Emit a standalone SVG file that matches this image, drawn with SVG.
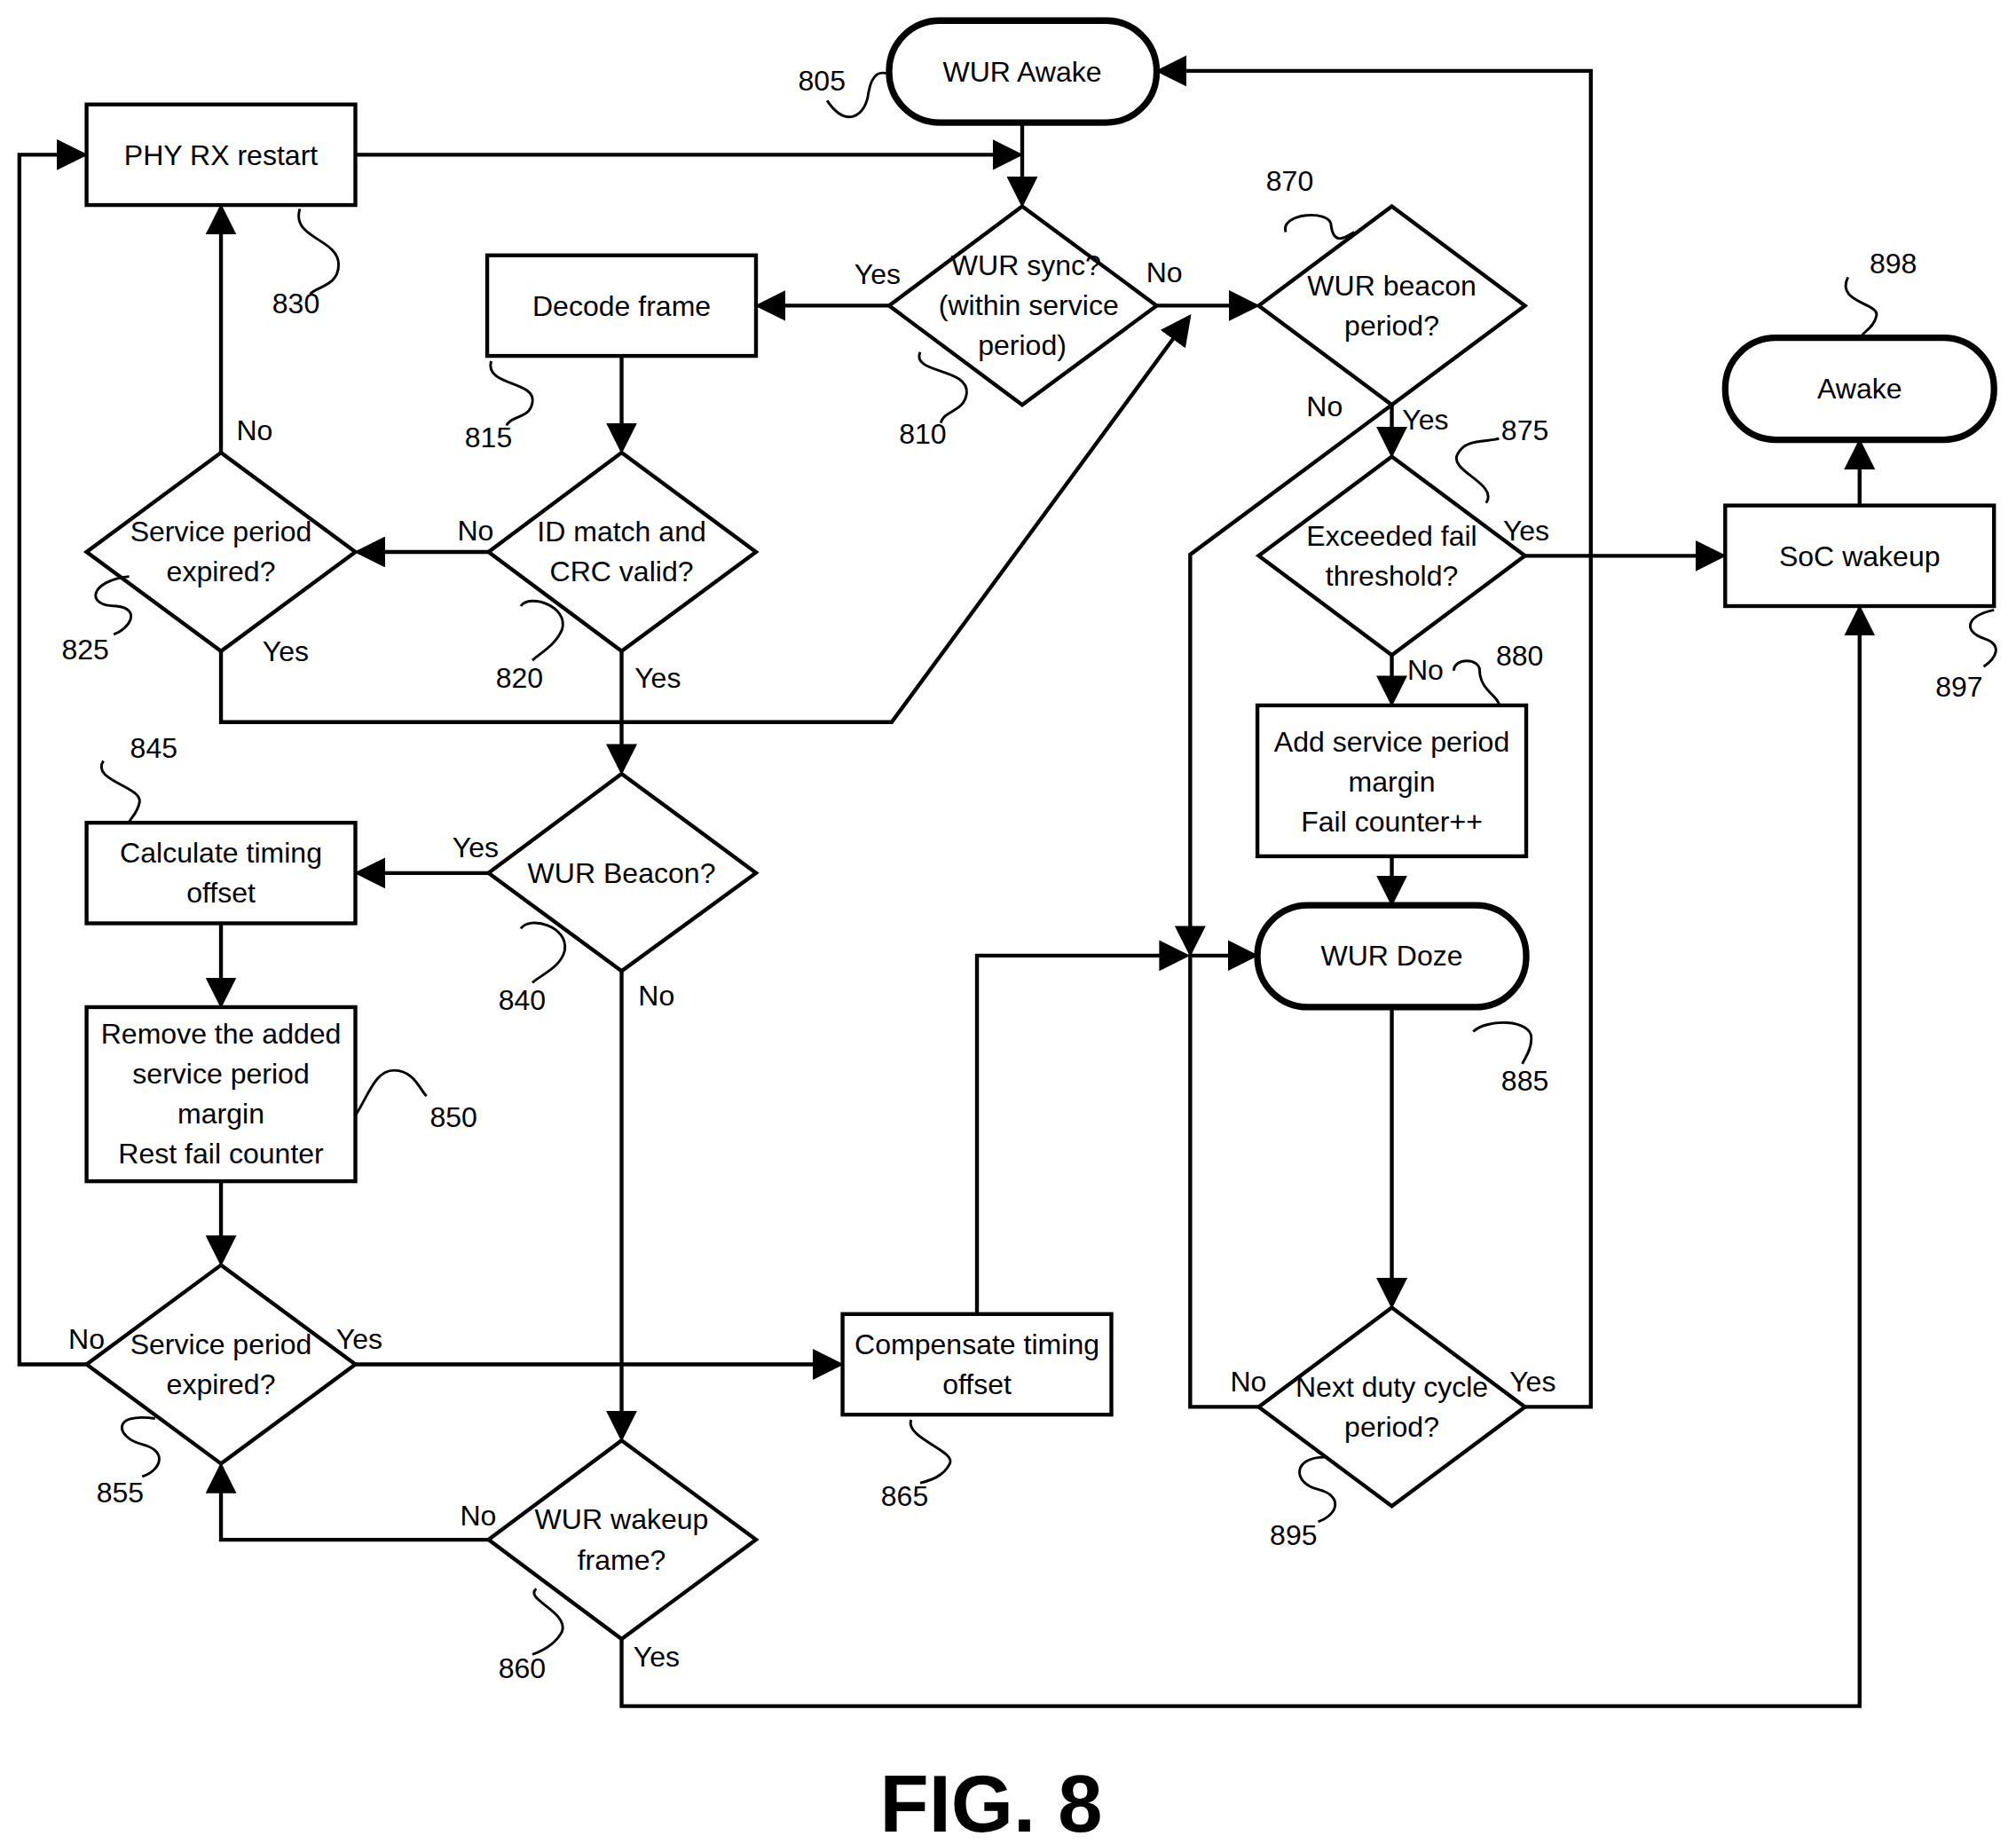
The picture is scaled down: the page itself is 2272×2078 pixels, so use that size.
<svg xmlns="http://www.w3.org/2000/svg" width="2272" height="2078" viewBox="0 0 2272 2078">
<style>
.n{fill:#fff;stroke:#000;stroke-width:3}
.t{fill:#fff;stroke:#000;stroke-width:5}
text{font-family:"Liberation Sans",Arial,sans-serif;font-size:22px;text-anchor:middle;fill:#000}
.l{fill:none;stroke:#000;stroke-width:3}
.s{fill:none;stroke:#000;stroke-width:2}
</style>
<defs><marker id="a" markerWidth="8" markerHeight="8" refX="7" refY="4" orient="auto" markerUnits="strokeWidth"><path d="M0,0 L8,4 L0,8 z" fill="#000"/></marker></defs>
<rect width="2272" height="2078" fill="#fff"/>
<g transform="scale(1.4564 1.4532)">
<g id="connectors" marker-end="url(#a)">
<path class="l" d="M791,95 V158"/>
<path class="l" d="M275,120 H789"/>
<path class="l" d="M688,237 H587"/>
<path class="l" d="M895,237 H972"/>
<path class="l" d="M1077,314 V352"/>
<path class="l" d="M1077,314 L921,430 V739"/>
<path class="l" d="M756,1019 V741 H918"/>
<path class="l" d="M974,1091 H921 V741 H971"/>
<path class="l" d="M481,276 V349"/>
<path class="l" d="M378,428 H277"/>
<path class="l" d="M171,351 V161"/>
<path class="l" d="M171,505 V560 H690 L920,246"/>
<path class="l" d="M481,505 V598"/>
<path class="l" d="M378,677 H277"/>
<path class="l" d="M481,753 V1115"/>
<path class="l" d="M171,716 V779"/>
<path class="l" d="M171,916 V979"/>
<path class="l" d="M67,1058 H15 V120 H65"/>
<path class="l" d="M275,1058 H650"/>
<path class="l" d="M378,1194 H171 V1137"/>
<path class="l" d="M481,1271 V1323 H1439 V472"/>
<path class="l" d="M1180,431 H1333"/>
<path class="l" d="M1077,508 V545"/>
<path class="l" d="M1077,664 V700"/>
<path class="l" d="M1077,781 V1012"/>
<path class="l" d="M1180,1091 H1231 V55 H897"/>
<path class="l" d="M1439,392 V343"/>
</g>
<g id="labels">
<text x="679" y="220">Yes</text><text x="901" y="219">No</text>
<text x="1103" y="333">Yes</text><text x="1025" y="323">No</text>
<text x="368" y="419">No</text><text x="197" y="341">No</text>
<text x="221" y="513">Yes</text><text x="509" y="533">Yes</text>
<text x="368" y="665">Yes</text><text x="508" y="780">No</text>
<text x="67" y="1046">No</text><text x="278" y="1046">Yes</text>
<text x="370" y="1183">No</text><text x="508" y="1292">Yes</text>
<text x="1181" y="419">Yes</text><text x="1103" y="527">No</text>
<text x="966" y="1079">No</text><text x="1186" y="1079">Yes</text>
</g>
<g id="n805"><rect class="t" x="688" y="16" width="207" height="79" rx="39"/><text x="791" y="63">WUR Awake</text></g>
<g id="n830"><rect class="n" x="67" y="81" width="208" height="78"/><text x="171" y="128">PHY RX restart</text></g>
<g id="n815"><rect class="n" x="377" y="198" width="208" height="78"/><text x="481" y="245">Decode frame</text></g>
<g id="n810"><path class="n" d="M791,160 L895,237 L791,314 L688,237 z"/><text x="794" y="213">WUR sync?</text><text x="796" y="244">(within service</text><text x="791" y="275">period)</text></g>
<g id="n870"><path class="n" d="M1077,160 L1180,237 L1077,314 L974,237 z"/><text x="1077" y="229">WUR beacon</text><text x="1077" y="260">period?</text></g>
<g id="n898"><rect class="t" x="1335" y="262" width="208" height="79" rx="39"/><text x="1439" y="309">Awake</text></g>
<g id="n897"><rect class="n" x="1335" y="392" width="208" height="78"/><text x="1439" y="439">SoC wakeup</text></g>
<g id="n825"><path class="n" d="M171,351 L275,428 L171,505 L67,428 z"/><text x="171" y="420">Service period</text><text x="171" y="451">expired?</text></g>
<g id="n820"><path class="n" d="M481,351 L585,428 L481,505 L378,428 z"/><text x="481" y="420">ID match and</text><text x="481" y="451">CRC valid?</text></g>
<g id="n875"><path class="n" d="M1077,354 L1180,431 L1077,508 L974,431 z"/><text x="1077" y="423">Exceeded fail</text><text x="1077" y="454">threshold?</text></g>
<g id="n880"><rect class="n" x="973" y="547" width="208" height="117"/><text x="1077" y="583">Add service period</text><text x="1077" y="614">margin</text><text x="1077" y="645">Fail counter++</text></g>
<g id="n840"><path class="n" d="M481,600 L585,677 L481,753 L378,677 z"/><text x="481" y="685">WUR Beacon?</text></g>
<g id="n845"><rect class="n" x="67" y="638" width="208" height="78"/><text x="171" y="669">Calculate timing</text><text x="171" y="700">offset</text></g>
<g id="n885"><rect class="t" x="973" y="702" width="208" height="79" rx="39"/><text x="1077" y="749">WUR Doze</text></g>
<g id="n850"><rect class="n" x="67" y="781" width="208" height="135"/><text x="171" y="809">Remove the added</text><text x="171" y="840">service period</text><text x="171" y="871">margin</text><text x="171" y="902">Rest fail counter</text></g>
<g id="n855"><path class="n" d="M171,981 L275,1058 L171,1135 L67,1058 z"/><text x="171" y="1050">Service period</text><text x="171" y="1081">expired?</text></g>
<g id="n865"><rect class="n" x="652" y="1019" width="208" height="78"/><text x="756" y="1050">Compensate timing</text><text x="756" y="1081">offset</text></g>
<g id="n895"><path class="n" d="M1077,1014 L1180,1091 L1077,1168 L974,1091 z"/><text x="1077" y="1083">Next duty cycle</text><text x="1077" y="1114">period?</text></g>
<g id="n860"><path class="n" d="M481,1117 L585,1194 L481,1271 L378,1194 z"/><text x="481" y="1186">WUR wakeup</text><text x="481" y="1217">frame?</text></g>
<g id="refs">
<path class="s" d="M640,78 C655,100 670,90 672,72 C675,55 682,55 690,58"/><text x="636" y="70">805</text>
<path class="s" d="M232,162 C225,185 262,185 262,205 C262,222 245,222 240,228"/><text x="229" y="243">830</text>
<path class="s" d="M380,280 C375,300 415,295 412,312 C410,325 395,322 392,330"/><text x="378" y="347">815</text>
<path class="s" d="M712,273 C705,290 750,285 748,305 C746,320 730,318 728,328"/><text x="714" y="344">810</text>
<path class="s" d="M995,180 C990,165 1030,162 1030,175 C1032,190 1040,185 1048,180"/><text x="998" y="148">870</text>
<path class="s" d="M1430,215 C1420,235 1455,235 1452,245 C1450,255 1440,258 1440,262"/><text x="1465" y="212">898</text>
<path class="s" d="M1150,390 C1160,375 1120,365 1128,352 C1134,340 1150,343 1160,340"/><text x="1180" y="341">875</text>
<path class="s" d="M100,447 C70,450 65,470 90,470 C110,472 100,488 88,492"/><text x="66" y="511">825</text>
<path class="s" d="M403,470 C410,460 440,470 435,488 C430,500 420,505 412,512"/><text x="402" y="533">820</text>
<path class="s" d="M1125,520 C1125,510 1145,510 1145,520 C1145,535 1160,540 1160,547"/><text x="1176" y="516">880</text>
<path class="s" d="M1543,473 C1520,478 1520,490 1535,495 C1550,500 1545,510 1535,517"/><text x="1516" y="540">897</text>
<path class="s" d="M80,590 C70,605 110,610 108,622 C106,632 100,635 100,638"/><text x="119" y="588">845</text>
<path class="s" d="M275,865 C285,850 290,830 305,830 C320,830 325,845 330,850"/><text x="351" y="874">850</text>
<path class="s" d="M403,720 C410,710 440,718 437,737 C434,750 420,755 412,762"/><text x="404" y="783">840</text>
<path class="s" d="M1140,800 C1150,790 1185,790 1185,805 C1185,815 1180,820 1178,825"/><text x="1180" y="846">885</text>
<path class="s" d="M120,1100 C85,1095 90,1115 110,1120 C130,1125 125,1140 110,1145"/><text x="93" y="1165">855</text>
<path class="s" d="M705,1101 C700,1115 740,1125 735,1135 C730,1145 720,1148 712,1150"/><text x="700" y="1168">865</text>
<path class="s" d="M1025,1130 C1000,1130 1000,1150 1020,1155 C1040,1160 1035,1175 1020,1180"/><text x="1001" y="1198">895</text>
<path class="s" d="M415,1232 C405,1240 440,1250 435,1265 C430,1275 420,1280 412,1283"/><text x="404" y="1301">860</text>
</g>
<text x="767" y="1420" style="font-size:62px;font-weight:bold">FIG. 8</text>
</g>
</svg>
